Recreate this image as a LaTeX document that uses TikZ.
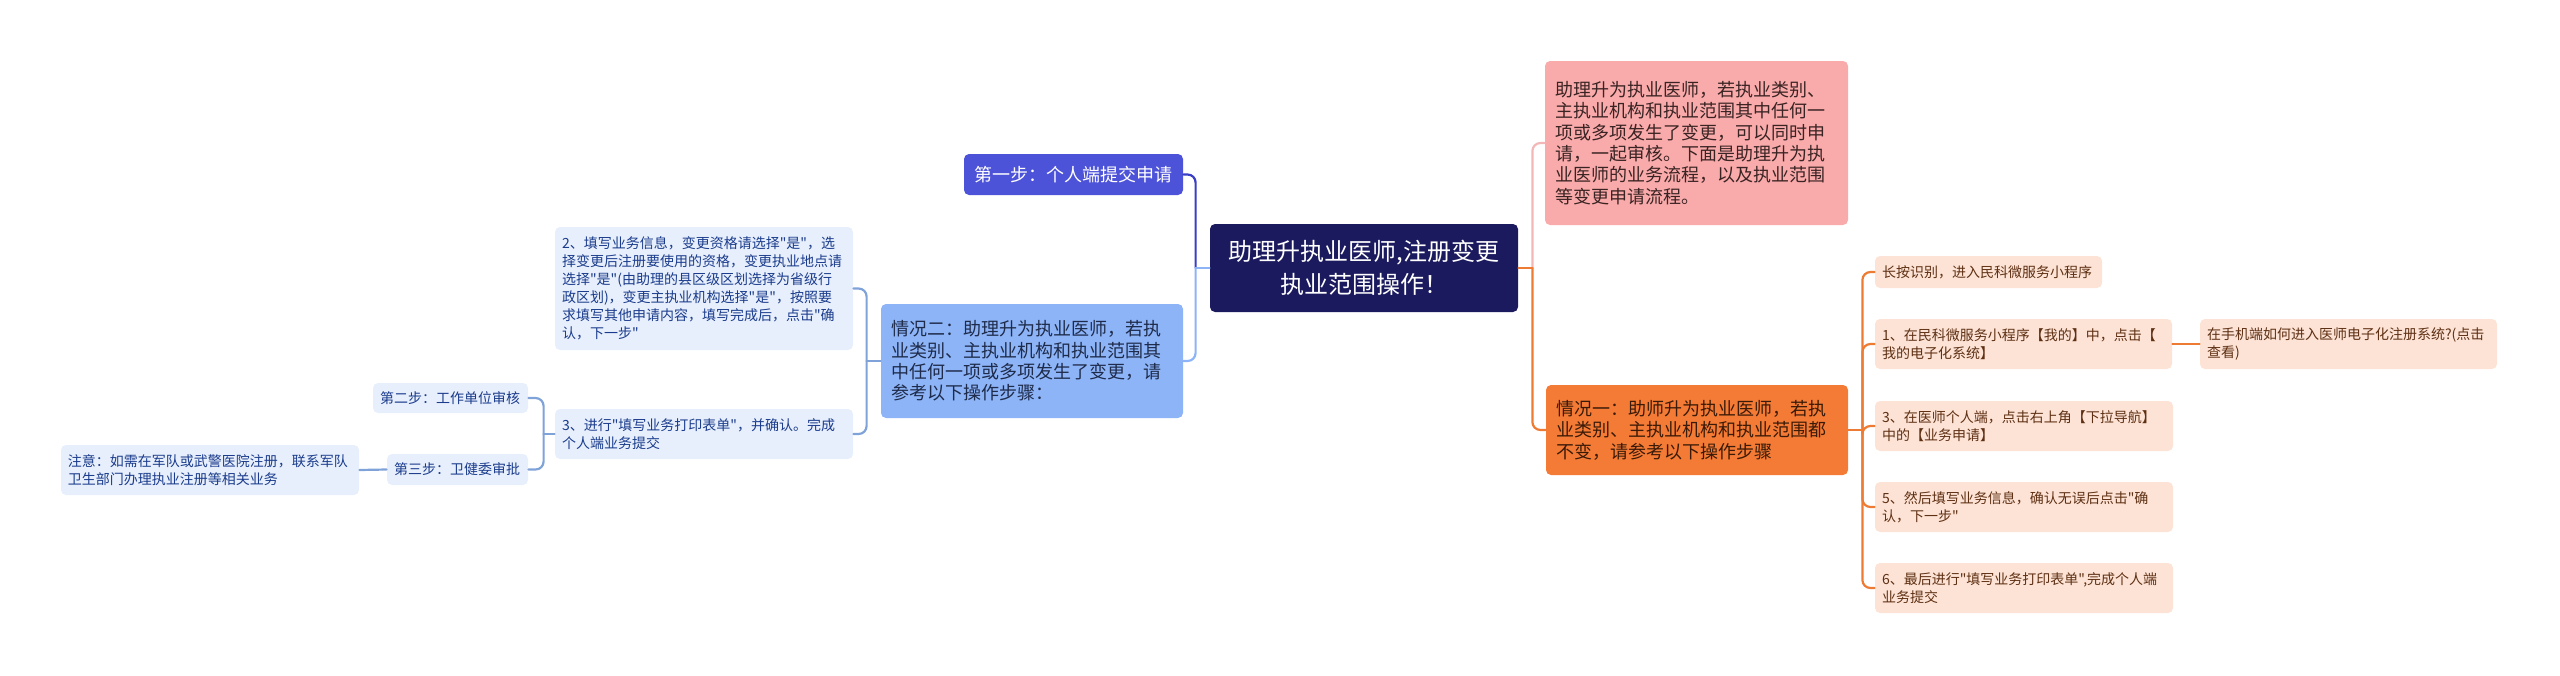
\documentclass[tikz,border=0pt]{standalone}
\usepackage{fontspec}
\newfontfamily\cjk{Noto Sans CJK SC}
\usepackage{xcolor}
\usetikzlibrary{calc}

\definecolor{rootfill}{HTML}{1B1A5E}
\definecolor{stepfill}{HTML}{4D53D8}
\definecolor{stepline}{HTML}{3A3EC4}
\definecolor{casefill}{HTML}{8DB4F7}
\definecolor{casetext}{HTML}{1E2B4A}
\definecolor{bluefill}{HTML}{E7EFFC}
\definecolor{bluetext}{HTML}{1B3C8C}
\definecolor{blueline}{HTML}{7FA2D8}
\definecolor{pinkfill}{HTML}{F9AAAA}
\definecolor{pinktext}{HTML}{3A2323}
\definecolor{pinkline}{HTML}{F2B8B8}
\definecolor{orangefill}{HTML}{F47B35}
\definecolor{orangetext}{HTML}{3A1A08}
\definecolor{orangeline}{HTML}{EE7B33}
\definecolor{peachfill}{HTML}{FDE3D5}
\definecolor{peachtext}{HTML}{5E3014}

\begin{document}
\begin{tikzpicture}[x=0.5pt,y=-0.5pt,line cap=round,line join=round,
    box/.style={rounded corners=2.5pt,inner ysep=0pt,align=left},
    rootbox/.style={box,fill=rootfill,text=white,align=center,inner xsep=5pt,
        font=\cjk\fontsize{12}{16.5}\selectfont},
    bigbox/.style={box,inner xsep=5pt,font=\cjk\fontsize{9}{10.7}\selectfont},
    smallbox/.style={box,inner xsep=3.5pt,font=\cjk\fontsize{7}{9}\selectfont},
    bluebox/.style={smallbox,fill=bluefill,text=bluetext},
    peachbox/.style={smallbox,fill=peachfill,text=peachtext},
    link/.style={line width=1.1pt,rounded corners=4pt}]
    \useasboundingbox (0,0) rectangle (2560,675);

    % centre
    \node[rootbox,text width=144pt,minimum height=44pt] (root) at (1364,268)
        {助理升执业医师,注册变更\\执业范围操作！};

    % right side
    \node[bigbox,fill=pinkfill,text=pinktext,text width=141.5pt,minimum height=82pt] (intro) at (1696.5,143)
        {助理升为执业医师，若执业类别、\\主执业机构和执业范围其中任何一\\项或多项发生了变更，可以同时申\\请，一起审核。下面是助理升为执\\业医师的业务流程，以及执业范围\\等变更申请流程。};
    \node[bigbox,fill=orangefill,text=orangetext,text width=141pt,minimum height=45pt] (caseone) at (1697,430)
        {情况一：助师升为执业医师，若执\\业类别、主执业机构和执业范围都\\不变，请参考以下操作步骤};
    \node[peachbox,text width=106.5pt,minimum height=16pt] (scan) at (1988.5,272)
        {长按识别，进入民科微服务小程序};
    \node[peachbox,text width=141.5pt,minimum height=25pt] (mine) at (2023.5,344)
        {1、在民科微服务小程序【我的】中，点击【\\我的电子化系统】};
    \node[peachbox,text width=141.5pt,minimum height=25pt] (phone) at (2348.5,344)
        {在手机端如何进入医师电子化注册系统?(点击\\查看)};
    \node[peachbox,text width=142pt,minimum height=25pt] (menu) at (2024,426)
        {3、在医师个人端，点击右上角【下拉导航】\\中的【业务申请】};
    \node[peachbox,text width=142pt,minimum height=25pt] (fillin) at (2024,507)
        {5、然后填写业务信息，确认无误后点击"确\\认，下一步"};
    \node[peachbox,text width=142pt,minimum height=25pt] (submit) at (2024,588)
        {6、最后进行"填写业务打印表单",完成个人端\\业务提交};

    % left side
    \node[bigbox,fill=stepfill,text=white,text width=99.5pt,minimum height=20.5pt] (stepone) at (1073.5,174.5)
        {第一步：个人端提交申请};
    \node[bigbox,fill=casefill,text=casetext,text width=141pt,minimum height=57pt] (casetwo) at (1032,361)
        {情况二：助理升为执业医师，若执\\业类别、主执业机构和执业范围其\\中任何一项或多项发生了变更，请\\参考以下操作步骤：};
    \node[bluebox,text width=142pt,minimum height=61.5pt] (details) at (704,288.5)
        {2、填写业务信息，变更资格请选择"是"，选\\择变更后注册要使用的资格，变更执业地点请\\选择"是"(由助理的县区级区划选择为省级行\\政区划)，变更主执业机构选择"是"，按照要\\求填写其他申请内容，填写完成后，点击"确\\认，下一步"};
    \node[bluebox,text width=142pt,minimum height=25pt] (printform) at (704,434)
        {3、进行"填写业务打印表单"，并确认。完成\\个人端业务提交};
    \node[bluebox,text width=70.5pt,minimum height=15pt] (steptwo) at (450.5,398)
        {第二步：工作单位审核};
    \node[bluebox,text width=63.5pt,minimum height=15.5pt] (stepthree) at (457.5,469.5)
        {第三步：卫健委审批};
    \node[bluebox,text width=142pt,minimum height=25pt] (army) at (210,470)
        {注意：如需在军队或武警医院注册，联系军队\\卫生部门办理执业注册等相关业务};

    % junctions
    \coordinate (rbus) at ($(root.east)+(14,0)$);
    \coordinate (lbus) at ($(root.west)+(-14,0)$);
    \coordinate (obus) at ($(caseone.east)+(14,0)$);
    \coordinate (cbus) at ($(casetwo.west)+(-14,0)$);
    \coordinate (pbus) at ($(printform.west)+(-11,0)$);

    % connectors
    \draw[link,pinkline] (intro.west) -| (rbus);
    \draw[link,orangeline] (caseone.west) -| (rbus);
    \draw[link,orangeline] (root.east) -- (rbus);
    \draw[link,stepline] (stepone.east) -| (lbus);
    \draw[link,casefill] (casetwo.east) -| (lbus);
    \draw[link,casefill] (root.west) -- (lbus);
    \foreach \n in {scan,mine,menu,fillin,submit}
        \draw[link,orangeline] (\n.west) -| (obus);
    \draw[link,orangeline] (caseone.east) -- (obus);
    \draw[link,orangeline] (mine.east) -- (phone.west);
    \draw[link,blueline] (details.east) -| (cbus);
    \draw[link,blueline] (printform.east) -| (cbus);
    \draw[link,blueline] (casetwo.west) -- (cbus);
    \draw[link,blueline] (steptwo.east) -| (pbus);
    \draw[link,blueline] (stepthree.east) -| (pbus);
    \draw[link,blueline] (printform.west) -- (pbus);
    \draw[link,blueline] (stepthree.west) -- (army.east);
\end{tikzpicture}
\end{document}
